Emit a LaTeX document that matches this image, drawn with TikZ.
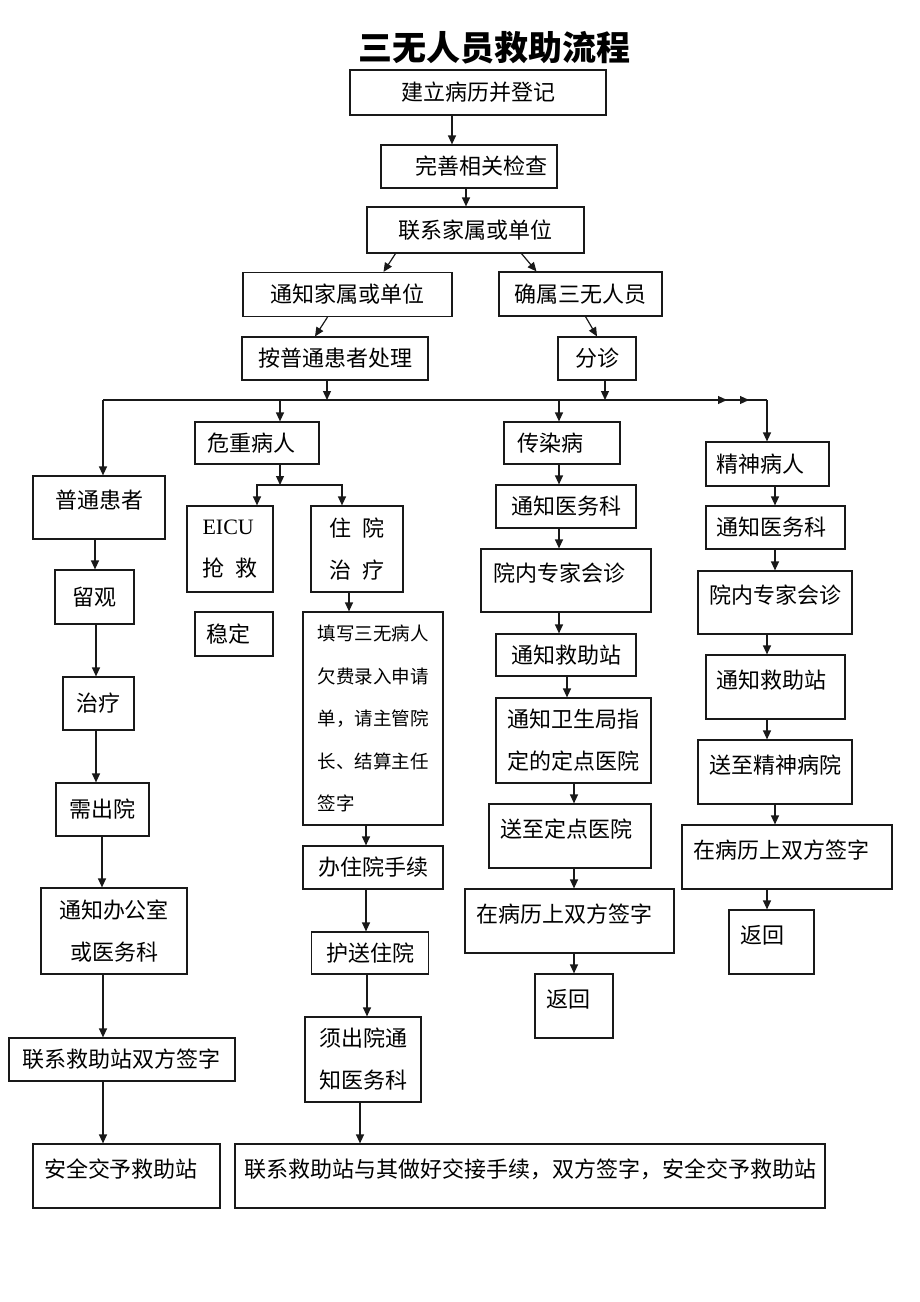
\documentclass[tikz,border=0pt]{standalone}
\usepackage{fontspec}
\setmainfont{Liberation Serif}
\newfontfamily\cjk{Noto Sans CJK SC}
\usepackage{tikz}
\usetikzlibrary{calc,arrows.meta,decorations.markings}

\begin{document}
\begin{tikzpicture}[x=1pt,y=-1pt,
  box/.style={draw=black!90,line width=1.2pt,inner sep=2pt,font=\cjk\fontsize{22}{42}\selectfont},
  wh/.style 2 args={minimum width=#1,minimum height=#2},
  hi/.style={text height=18pt,text depth=16pt},
  line/.style={draw=black!90,line width=1.2pt},
  arr/.style={line,-{Triangle[length=9pt,width=8pt]}}]
\useasboundingbox (0,0) rectangle (920,1302);

\node[font=\cjk\bfseries\fontsize{34}{40}\selectfont] (title) at (494,48) {三无人员救助流程};

\node[box,wh={256}{45}] (reg) at (478,92.5) {建立病历并登记};
\node[box,wh={176}{43}] (chk) at (469,166.5) {\hspace*{24pt}完善相关检查};
\node[box,wh={217}{46}] (contact) at (475.5,230) {联系家属或单位};
\node[box,wh={209}{44}] (notify) at (347.5,294.5) {通知家属或单位};
\node[box,wh={163}{44}] (sanwu) at (580.5,294) {确属三无人员};
\node[box,wh={186}{43}] (normal) at (335,358.5) {按普通患者处理};
\node[box,wh={78}{43}] (triage) at (597,358.5) {分诊};
\coordinate (tl) at (103,400);
\coordinate (tr) at (767,400);
\coordinate (wzs) at (280,485);

\node[box,hi,wh={132}{63}] (pt) at (99,507.5) {普通患者};
\node[box,wh={79}{54}] (lg) at (94.5,597) {留观};
\node[box,wh={71}{53}] (zl) at (98.5,703.5) {治疗};
\node[box,wh={93}{53}] (xcy) at (102.5,809.5) {需出院};
\node[box,wh={146}{86},align=center] (tzb) at (114,931) {通知办公室\\或医务科};
\node[box,wh={226}{43}] (lq) at (122,1059.5) {联系救助站双方签字};
\node[box,hi,wh={187}{64}] (aq) at (126.5,1176) {安全交予救助站\hspace*{11pt}};

\node[box,wh={124}{42}] (wz) at (257,443) {危重病人\hspace*{12pt}};
\node[box,wh={86}{86},align=left] (eicu) at (230,549) {{\rmfamily EICU}\\抢\hspace{0.5em}救};
\node[box,wh={92}{86},align=left] (zy) at (357,549) {住\hspace{0.5em}院\\治\hspace{0.5em}疗};
\node[box,wh={78}{44}] (wd) at (234,634) {稳定\hspace*{12pt}};
\node[box,wh={140}{213},align=left,font=\cjk\fontsize{18.5}{42.5}\selectfont] (tx) at (373,718.5)
  {填写三无病人\\欠费录入申请\\单，请主管院\\长、结算主任\\签字};
\node[box,wh={140}{43}] (bz) at (373,867.5) {办住院手续};
\node[box,wh={117}{42}] (hs) at (370,953) {护送住院};
\node[box,wh={116}{85},align=center] (xc) at (363,1059.5) {须出院通\\知医务科};
\node[box,hi,wh={590}{64}] (lj) at (530,1176) {联系救助站与其做好交接手续，双方签字，安全交予救助站};

\node[box,wh={116}{42}] (crb) at (562,443) {传染病\hspace*{24pt}};
\node[box,wh={140}{43}] (tz1) at (566,506.5) {通知医务科};
\node[box,hi,wh={170}{63}] (hz1) at (566,580.5) {院内专家会诊\hspace*{14pt}};
\node[box,wh={140}{42}] (tj1) at (566,655) {通知救助站};
\node[box,wh={155}{85},align=center] (tw) at (573.5,740.5) {通知卫生局指\\定的定点医院};
\node[box,hi,wh={162}{64}] (sz) at (570,836) {送至定点医院\hspace*{8pt}};
\node[box,hi,wh={209}{64}] (zb1) at (569.5,921) {在病历上双方签字\hspace*{11pt}};
\node[box,hi,wh={78}{64}] (fh1) at (574,1006) {返回\hspace*{12pt}};

\node[box,wh={123}{44}] (jsb) at (767.5,464) {精神病人\hspace*{14pt}};
\node[box,wh={139}{43}] (tz2) at (775.5,527.5) {通知医务科\hspace*{8pt}};
\node[box,hi,wh={154}{63}] (hz2) at (775,602.5) {院内专家会诊};
\node[box,hi,wh={139}{64}] (tj2) at (775.5,687) {通知救助站\hspace*{8pt}};
\node[box,hi,wh={154}{64}] (sj) at (775,772) {送至精神病院};
\node[box,hi,wh={210}{64}] (zb2) at (787,857) {在病历上双方签字\hspace*{12pt}};
\node[box,hi,wh={85}{64}] (fh2) at (771.5,942) {返回\hspace*{18pt}};

\draw[arr] ([xshift=-26pt]reg.south) -- ([xshift=-26pt]reg.south |- chk.north);
\draw[arr] ([xshift=-3pt]chk.south) -- ([xshift=-3pt]chk.south |- contact.north);
\draw[arr] ([xshift=-80pt]contact.south) -- ([xshift=36pt]notify.north);
\draw[arr] ([xshift=46pt]contact.south) -- ([xshift=-44pt]sanwu.north);
\draw[arr] ([xshift=-20pt]notify.south) -- ([xshift=-20pt]normal.north);
\draw[arr] ([xshift=5pt]sanwu.south) -- (triage.north);
\draw[arr] ([xshift=-8pt]normal.south) -- ([xshift=-8pt]normal.south |- tl);
\draw[arr] ([xshift=8pt]triage.south) -- ([xshift=8pt]triage.south |- tl);

\draw[line,postaction={decorate},decoration={markings,
  mark=at position 624pt with {\arrow{Triangle[length=9pt,width=8pt]}},
  mark=at position 646pt with {\arrow{Triangle[length=9pt,width=8pt]}}}]
  (tl) -- (tr);
\draw[arr] (tl) -- ([xshift=4pt]pt.north);
\draw[arr] ([xshift=23pt]wz.north |- tl) -- ([xshift=23pt]wz.north);
\draw[arr] ([xshift=-3pt]crb.north |- tl) -- ([xshift=-3pt]crb.north);
\draw[arr] (tr) -- (tr |- jsb.north);

\draw[arr] (wzs |- wz.south) -- (wzs);
\draw[arr] (wzs) -| ([xshift=27pt]eicu.north);
\draw[arr] (wzs) -| ([xshift=-15pt]zy.north);

\draw[arr] ([xshift=-4pt]pt.south) -- ([xshift=-4pt]pt.south |- lg.north);
\draw[arr] ([xshift=1.5pt]lg.south) -- ([xshift=1.5pt]lg.south |- zl.north);
\draw[arr] ([xshift=-2.5pt]zl.south) -- ([xshift=-2.5pt]zl.south |- xcy.north);
\draw[arr] ([xshift=-0.5pt]xcy.south) -- ([xshift=-0.5pt]xcy.south |- tzb.north);
\draw[arr] ([xshift=-11pt]tzb.south) -- ([xshift=-11pt]tzb.south |- lq.north);
\draw[arr] ([xshift=-19pt]lq.south) -- ([xshift=-19pt]lq.south |- aq.north);

\draw[arr] ([xshift=-8pt]zy.south) -- ([xshift=-8pt]zy.south |- tx.north);
\draw[arr] ([xshift=-7pt]tx.south) -- ([xshift=-7pt]tx.south |- bz.north);
\draw[arr] ([xshift=-7pt]bz.south) -- ([xshift=-7pt]bz.south |- hs.north);
\draw[arr] ([xshift=-3pt]hs.south) -- ([xshift=-3pt]hs.south |- xc.north);
\draw[arr] ([xshift=-3pt]xc.south) -- ([xshift=-3pt]xc.south |- lj.north);

\draw[arr] ([xshift=-3pt]crb.south) -- ([xshift=-3pt]crb.south |- tz1.north);
\draw[arr] ([xshift=-7pt]tz1.south) -- ([xshift=-7pt]tz1.south |- hz1.north);
\draw[arr] ([xshift=-7pt]hz1.south) -- ([xshift=-7pt]hz1.south |- tj1.north);
\draw[arr] ([xshift=1pt]tj1.south) -- ([xshift=1pt]tj1.south |- tw.north);
\draw[arr] ([xshift=0.5pt]tw.south) -- ([xshift=0.5pt]tw.south |- sz.north);
\draw[arr] ([xshift=4pt]sz.south) -- ([xshift=4pt]sz.south |- zb1.north);
\draw[arr] ([xshift=4.5pt]zb1.south) -- ([xshift=4.5pt]zb1.south |- fh1.north);

\draw[arr] ([xshift=7.5pt]jsb.south) -- ([xshift=7.5pt]jsb.south |- tz2.north);
\draw[arr] ([xshift=-0.5pt]tz2.south) -- ([xshift=-0.5pt]tz2.south |- hz2.north);
\draw[arr] ([xshift=-8pt]hz2.south) -- ([xshift=-8pt]hz2.south |- tj2.north);
\draw[arr] ([xshift=-8.5pt]tj2.south) -- ([xshift=-8.5pt]tj2.south |- sj.north);
\draw[arr] (sj.south) -- (sj.south |- zb2.north);
\draw[arr] ([xshift=-20pt]zb2.south) -- ([xshift=-20pt]zb2.south |- fh2.north);

\end{tikzpicture}
\end{document}
